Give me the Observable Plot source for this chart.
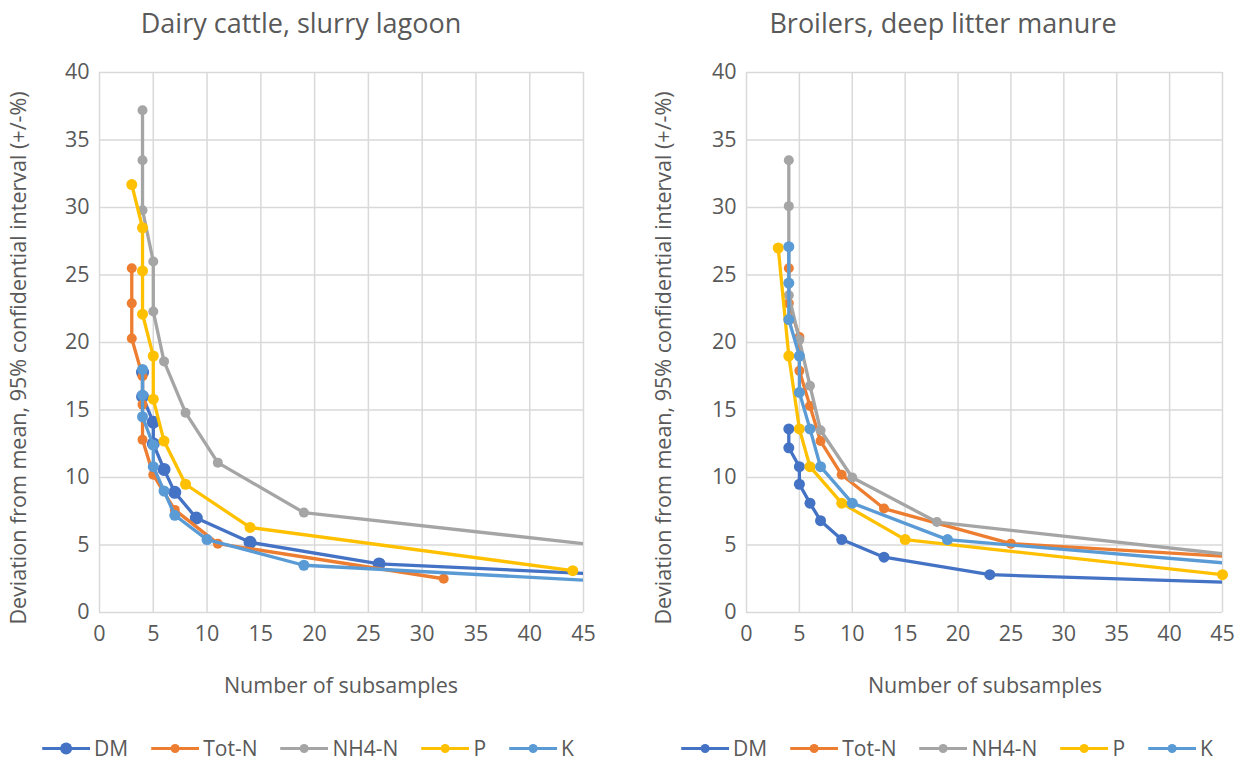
<!DOCTYPE html>
<html>
<head>
<meta charset="utf-8">
<script src="https://cdn.jsdelivr.net/npm/d3@7"></script>
<script src="https://cdn.jsdelivr.net/npm/@observablehq/plot@0.6"></script>
<style>
  html, body { margin: 0; padding: 0; background: #fff; }
  #root { position: relative; width: 1247px; height: 762px; overflow: hidden; font-family: "Open Sans", sans-serif; color: #595959; }
  .abs { position: absolute; white-space: nowrap; }
  .title { font-size: 27px; line-height: 1; transform: translate(-50%, -50%); }
  .xlab { font-size: 21.5px; line-height: 1; transform: translate(-50%, -50%); }
  .ylab { font-size: 21.5px; line-height: 1; transform: translate(-50%, -50%) rotate(-90deg); }
  .legend { display: flex; align-items: center; transform: translate(-50%, -50%); font-size: 21px; line-height: 1; }
  .legend .item { display: flex; align-items: center; margin-right: 23px; }
  .legend .item:last-child { margin-right: 0; }
  .legend svg { margin-right: 4px; }
</style>
</head>
<body>
<div id="root"></div>
<script>
// ---------- data ----------
const seriesNames = ["DM", "Tot-N", "NH4-N", "P", "K"];
const seriesColors = ["#4472C4", "#ED7D31", "#A5A5A5", "#FFC000", "#5B9BD5"];
const xTicks = [0, 5, 10, 15, 20, 25, 30, 35, 40, 45];
const yTicks = [0, 5, 10, 15, 20, 25, 30, 35, 40];

// Dairy cattle, slurry lagoon  [number of subsamples, deviation %]
const dairyDM   = [[4,17.8],[4,16.0],[5,14.1],[5,12.5],[6,10.6],[7,8.9],[9,7.0],[14,5.2],[26,3.6],[50,2.72]];
const dairyTotN = [[3,25.5],[3,22.9],[3,20.3],[4,17.5],[4,15.4],[4,12.8],[5,10.2],[7,7.6],[11,5.1],[32,2.5]];
const dairyNH4N = [[4,37.2],[4,33.5],[4,29.8],[5,26.0],[5,22.3],[6,18.6],[8,14.8],[11,11.1],[19,7.4],[50,4.66]];
const dairyP    = [[3,31.7],[4,28.5],[4,25.3],[4,22.1],[5,19.0],[5,15.8],[6,12.7],[8,9.5],[14,6.3],[44,3.1]];
const dairyK    = [[4,18.0],[4,16.1],[4,14.5],[5,12.4],[5,10.8],[6,9.0],[7,7.2],[10,5.4],[19,3.5],[50,2.18]];

// Broilers, deep litter manure
const broilDM   = [[4,13.6],[4,12.2],[5,10.8],[5,9.5],[6,8.1],[7,6.8],[9,5.4],[13,4.1],[23,2.8],[50,2.12]];
const broilTotN = [[4,25.5],[4,22.9],[5,20.4],[5,17.9],[6,15.3],[7,12.7],[9,10.2],[13,7.7],[25,5.1],[50,3.94]];
const broilNH4N = [[4,33.5],[4,30.1],[4,23.5],[5,20.2],[6,16.8],[7,13.5],[10,10.0],[18,6.7],[50,3.91]];
const broilP    = [[3,27.0],[4,19.0],[5,13.6],[6,10.8],[9,8.1],[15,5.4],[45,2.8]];
const broilK    = [[4,27.1],[4,24.4],[4,21.7],[5,19.0],[5,16.3],[6,13.6],[7,10.8],[10,8.1],[19,5.4],[50,3.35]];

const dairyTitle = "Dairy cattle, slurry lagoon";
const broilTitle = "Broilers, deep litter manure";
const xTitle = "Number of subsamples";
const yTitle = "Deviation from mean, 95% confidential interval (+/-%)";

// ---------- drawing ----------
const root = document.getElementById("root");

function makeChart(seriesData, cfg) {
  const marks = [
    Plot.gridX(xTicks, {stroke: "#d9d9d9", strokeOpacity: 1, strokeWidth: 1.5}),
    Plot.gridY(yTicks, {stroke: "#d9d9d9", strokeOpacity: 1, strokeWidth: 1.5}),
    Plot.axisX(xTicks, {tickSize: 0, tickPadding: 13, label: null, fontSize: 21.5, fill: "#595959"}),
    Plot.axisY(yTicks, {tickSize: 0, tickPadding: 10, label: null, fontSize: 21.5, fill: "#595959"})
  ];
  seriesData.forEach((pts, i) => {
    const rows = pts.map(([x, y]) => ({x, y}));
    marks.push(Plot.line(rows, {x: "x", y: "y", stroke: seriesColors[i], strokeWidth: 3.3,
      strokeLinejoin: "round", clip: true}));
    marks.push(Plot.dot(rows.filter(d => d.x <= 45), {x: "x", y: "y", fill: seriesColors[i],
      stroke: "none", r: cfg.radii[i]}));
  });
  const svg = Plot.plot({
    width: cfg.width, height: 700,
    marginLeft: cfg.ml, marginRight: cfg.mr, marginTop: 72, marginBottom: 88,
    x: {domain: [0, 45]},
    y: {domain: [0, 40]},
    style: {fontFamily: "Open Sans", background: "transparent", color: "#595959", overflow: "visible"},
    marks
  });
  const holder = document.createElement("div");
  holder.className = "abs";
  holder.style.left = cfg.left + "px";
  holder.style.top = "0px";
  holder.appendChild(svg);
  root.appendChild(holder);
}

function addText(cls, text, x, y) {
  const d = document.createElement("div");
  d.className = "abs " + cls;
  d.style.left = x + "px";
  d.style.top = y + "px";
  d.textContent = text;
  root.appendChild(d);
}

function addLegend(cx, cy, radii) {
  const lg = document.createElement("div");
  lg.className = "abs legend";
  lg.style.left = cx + "px";
  lg.style.top = cy + "px";
  seriesNames.forEach((name, i) => {
    const item = document.createElement("div");
    item.className = "item";
    const ns = "http://www.w3.org/2000/svg";
    const s = document.createElementNS(ns, "svg");
    s.setAttribute("width", 48); s.setAttribute("height", 14);
    const ln = document.createElementNS(ns, "line");
    ln.setAttribute("x1", 0); ln.setAttribute("x2", 48); ln.setAttribute("y1", 7); ln.setAttribute("y2", 7);
    ln.setAttribute("stroke", seriesColors[i]); ln.setAttribute("stroke-width", 3);
    const c = document.createElementNS(ns, "circle");
    c.setAttribute("cx", 24); c.setAttribute("cy", 7); c.setAttribute("r", radii[i]);
    c.setAttribute("fill", seriesColors[i]);
    s.appendChild(ln); s.appendChild(c);
    const t = document.createElement("span");
    t.textContent = name;
    item.appendChild(s); item.appendChild(t);
    lg.appendChild(item);
  });
  root.appendChild(lg);
}

makeChart([dairyDM, dairyTotN, dairyNH4N, dairyP, dairyK],
  {left: 0, width: 623, ml: 99, mr: 40, radii: [6.5, 5, 5, 5.5, 5.5]});
makeChart([broilDM, broilTotN, broilNH4N, broilP, broilK],
  {left: 623, width: 624, ml: 123, mr: 25, radii: [5.5, 5, 5, 5.5, 5.5]});

addText("title", dairyTitle, 301, 22);
addText("title", broilTitle, 943, 22);
addText("xlab", xTitle, 341, 685);
addText("xlab", xTitle, 985, 685);
addText("ylab", yTitle, 18, 358);
addText("ylab", yTitle, 663, 358);
addLegend(308, 748, [6, 4.5, 4.5, 4.5, 4.5]);
addLegend(947, 748, [4.5, 4.5, 4.5, 4.5, 4.5]);
</script>
</body>
</html>
